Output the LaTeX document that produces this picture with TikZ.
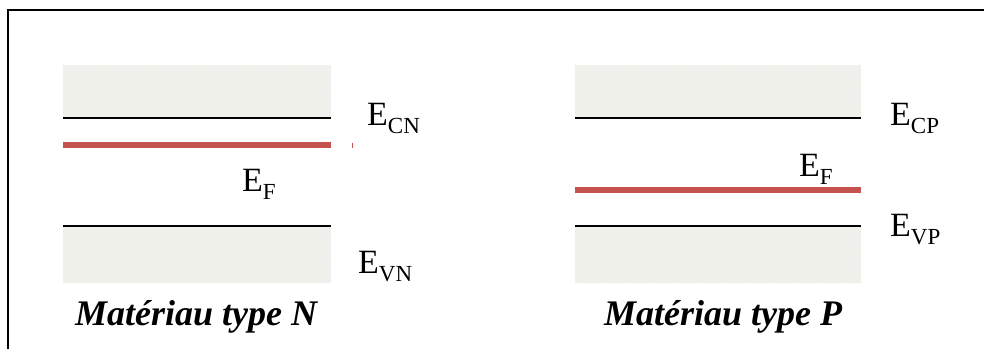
\documentclass[tikz,border=0pt]{standalone}
\usepackage{fontspec}
\setmainfont{Liberation Serif}
\usetikzlibrary{patterns}

\definecolor{bandgray}{RGB}{240,240,235}
\definecolor{fermired}{RGB}{196,82,78}

\begin{document}
\begin{tikzpicture}[x=1pt, y=-1pt]

% --- Style Definitions ---
\tikzstyle{band}=[fill=bandgray, draw=none]
\tikzstyle{edge_line}=[line width=1.8pt, black]
\tikzstyle{fermi_line}=[line width=6pt, fermired]
\tikzstyle{level_label}=[anchor=base west, inner sep=0pt, font=\fontsize{34}{34}\selectfont]
\tikzstyle{title_label}=[anchor=base west, inner sep=0pt, font=\fontsize{36}{36}\selectfont\bfseries\itshape]
\newcommand{\lvl}[2]{#1\raisebox{-8pt}{\fontsize{23}{23}\selectfont #2}}

\useasboundingbox (0,0) rectangle (984,349);

% frame
\draw[line width=2.2pt] (8,349) -- (8,10) -- (984,10);

% --- Material N ---
\fill[band] (63,65) rectangle (331,118);
\fill[band] (63,226) rectangle (331,283);
\path[pattern=north east lines, pattern color=black!5] (63,65) rectangle (331,118);
\path[pattern=north east lines, pattern color=black!5] (63,226) rectangle (331,283);
\draw[edge_line] (63,118) -- (331,118);
\draw[edge_line] (63,226) -- (331,226);
\draw[fermi_line] (63,145) -- (331,145);
\draw[fermi_line, line width=5pt] (351.5,145.5) -- (352.5,145.5);

\node[level_label] (ECN) at (367,125) {\lvl{E}{CN}};
\node[level_label] (EFN) at (242,191) {\lvl{E}{F}};
\node[level_label] (EVN) at (358,273) {\lvl{E}{VN}};
\node[title_label] (titleN) at (75,325) {Matériau type N};

% --- Material P ---
\fill[band] (575,65) rectangle (861,118);
\fill[band] (575,226) rectangle (861,283);
\path[pattern=north east lines, pattern color=black!5] (575,65) rectangle (861,118);
\path[pattern=north east lines, pattern color=black!5] (575,226) rectangle (861,283);
\draw[edge_line] (575,118) -- (861,118);
\draw[edge_line] (575,226) -- (861,226);
\draw[fermi_line] (575,190) -- (861,190);

\node[level_label] (ECP) at (890,125) {\lvl{E}{CP}};
\node[level_label] (EFP) at (799,176) {\lvl{E}{F}};
\node[level_label] (EVP) at (890,236) {\lvl{E}{VP}};
\node[title_label] (titleP) at (604,325) {Matériau type P};

\end{tikzpicture}
\end{document}
